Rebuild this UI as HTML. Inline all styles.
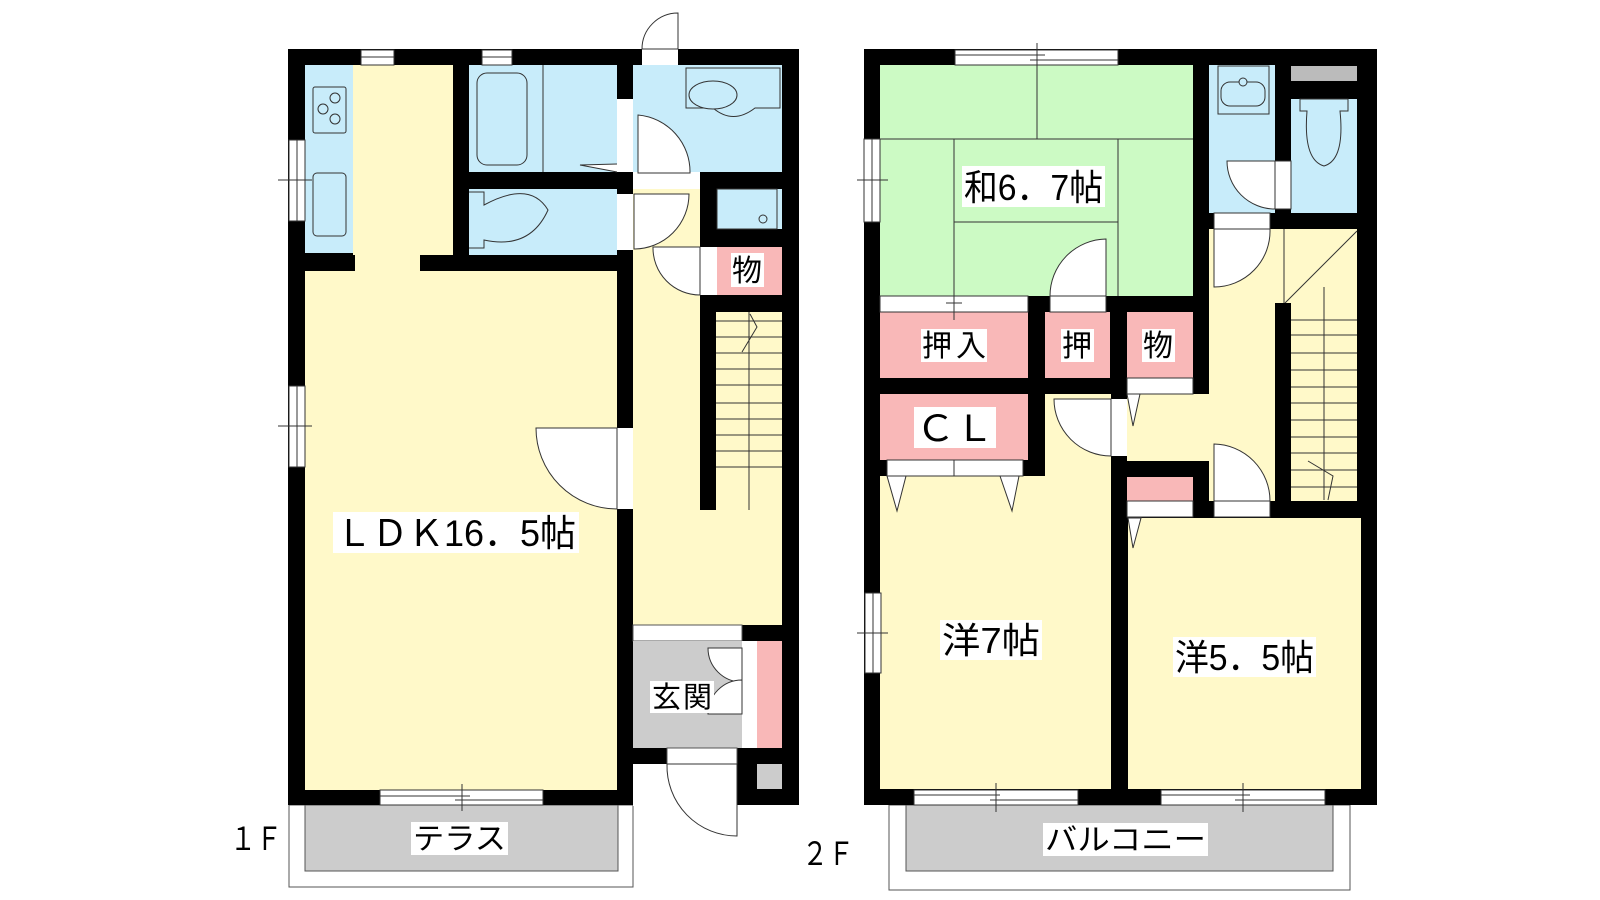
<!DOCTYPE html>
<html><head><meta charset="utf-8"><style>
html,body{margin:0;padding:0;background:#fff}
svg{display:block}
text{font-family:"Liberation Sans","Noto Sans CJK JP",sans-serif;fill:#000}
</style></head><body>
<svg width="1600" height="900" viewBox="0 0 1600 900" xmlns="http://www.w3.org/2000/svg">
<g stroke="none">
<!-- 1F -->
<rect x="289" y="805" width="344" height="82" fill="#fff" stroke="#555" stroke-width="1"/>
<rect x="305" y="805" width="313" height="66" fill="#ccc" stroke="#555" stroke-width="1"/>
<rect x="288" y="49" width="511" height="756" fill="#000"/>
<rect x="305" y="65" width="48" height="188" fill="#c8ecfa"/>
<rect x="353" y="65" width="100" height="190" fill="#fff9c9"/>
<rect x="305" y="271" width="312" height="519" fill="#fff9c9"/>
<rect x="355" y="253" width="65" height="20" fill="#fff9c9"/>
<rect x="469" y="65" width="148" height="107" fill="#c8ecfa"/>
<rect x="469" y="189" width="148" height="66" fill="#c8ecfa"/>
<rect x="633" y="65" width="149" height="107" fill="#c8ecfa"/>
<rect x="717" y="189" width="65" height="40" fill="#c8ecfa"/>
<rect x="633" y="189" width="67" height="123" fill="#fff9c9"/>
<rect x="633" y="312" width="149" height="313" fill="#fff9c9"/>
<rect x="700" y="296" width="16" height="214" fill="#000"/>
<rect x="717" y="247" width="65" height="48" fill="#f9b8b8"/>
<rect x="700" y="247" width="17" height="48" fill="#fff"/>
<rect x="633" y="625" width="109" height="16" fill="#fff" stroke="#555" stroke-width="1"/>
<rect x="633" y="641" width="109" height="107" fill="#ccc"/>
<rect x="742" y="641" width="15" height="107" fill="#fff"/>
<rect x="757" y="641" width="25" height="107" fill="#f9b8b8"/>
<rect x="757" y="764" width="25" height="25" fill="#ccc"/>
<rect x="633" y="764" width="104" height="42" fill="#fff"/>
<rect x="667" y="748" width="70" height="16" fill="#fff" stroke="#555" stroke-width="1"/>
<!-- 1F doors/window openings -->
<rect x="642" y="49" width="36" height="16" fill="#fff"/>
<rect x="617" y="99" width="16" height="73" fill="#fff"/>
<rect x="617" y="194" width="16" height="56" fill="#fff"/>
<rect x="617" y="428" width="16" height="81" fill="#fff"/>
<rect x="633" y="172" width="67" height="17" fill="#fff"/>
</g>
<g fill="#fff" stroke="#333" stroke-width="1">
<!-- windows 1F -->
<rect x="361" y="50" width="33" height="15"/><line x1="361" y1="57" x2="394" y2="57"/>
<rect x="482" y="50" width="30" height="15"/><line x1="482" y1="57" x2="512" y2="57"/>
<rect x="289" y="140" width="16" height="81"/><line x1="297" y1="140" x2="297" y2="221"/><line x1="278" y1="180" x2="312" y2="180"/>
<rect x="289" y="386" width="16" height="81"/><line x1="297" y1="386" x2="297" y2="467"/><line x1="278" y1="426" x2="312" y2="426"/>
<rect x="380" y="790" width="163" height="15"/><line x1="380" y1="796" x2="470" y2="796"/><line x1="455" y1="800" x2="543" y2="800"/><line x1="462" y1="784" x2="462" y2="811"/>
<!-- door arcs 1F -->
<path d="M678 49 L678 13 A36 36 0 0 0 642 49 Z"/>
<path d="M638 115 L638 173 L690 173 A57 57 0 0 0 638 115 Z"/>
<path d="M634 194 L689 194 A55 55 0 0 1 634 249 Z"/>
<path d="M700 247 L653 247 A47 47 0 0 0 700 295 Z"/>
<path d="M617 428 L536 428 A81 81 0 0 0 617 509 Z"/>
<path d="M667 764 L737 764 L737 836 A70 70 0 0 1 667 764 Z"/>
<path d="M742 648 L708 648 A34 34 0 0 0 742 682 Z"/>
<path d="M742 714 L708 714 A34 34 0 0 1 742 680 Z"/>
<!-- fixtures -->
<rect x="313" y="87" width="33" height="46" rx="2" fill="#c8ecfa"/>
<circle cx="335" cy="98" r="5" fill="#c8ecfa"/><circle cx="323" cy="109" r="5" fill="#c8ecfa"/><circle cx="335" cy="119" r="5" fill="#c8ecfa"/>
<rect x="313" y="173" width="33" height="63" rx="4" fill="#c8ecfa"/>
<rect x="477" y="73" width="50" height="92" rx="10" fill="#c8ecfa"/>
<line x1="543" y1="65" x2="543" y2="172"/>
<path d="M617 164 L580 165 L617 172" fill="#fff"/>
<path d="M469 192 L484 192 L484 205 Q530 180 548 210 Q530 250 484 240 L484 248 L469 248" fill="#c8ecfa"/>
<path d="M686 68 L780 68 L780 108 L755 108 Q733 125 713 108 L686 108 Z" fill="#c8ecfa"/>
<ellipse cx="713" cy="95" rx="24" ry="14" fill="#c8ecfa"/>
<rect x="717" y="189" width="60" height="40" fill="#c8ecfa"/>
<circle cx="763" cy="219" r="4" fill="#c8ecfa"/>
</g>
<g stroke="#333" stroke-width="1" fill="none">
<line x1="716" y1="321" x2="782" y2="321"/><line x1="716" y1="337" x2="782" y2="337"/><line x1="716" y1="353" x2="782" y2="353"/><line x1="716" y1="369" x2="782" y2="369"/><line x1="716" y1="385" x2="782" y2="385"/><line x1="716" y1="403" x2="782" y2="403"/><line x1="716" y1="419" x2="782" y2="419"/><line x1="716" y1="435" x2="782" y2="435"/><line x1="716" y1="451" x2="782" y2="451"/><line x1="716" y1="467" x2="782" y2="467"/>
<line x1="749" y1="312" x2="749" y2="510"/>
<polyline points="750,314 757,327 742,352"/>
</g>

<!-- 2F -->
<g stroke="none">
<rect x="889" y="805" width="461" height="85" fill="#fff" stroke="#555" stroke-width="1"/>
<rect x="906" y="805" width="427" height="66" fill="#ccc" stroke="#555" stroke-width="1"/>
<rect x="864" y="49" width="513" height="756" fill="#000"/>
<rect x="880" y="65" width="313" height="231" fill="#ccfac4"/>
<rect x="1209" y="65" width="66" height="148" fill="#c8ecfa"/>
<rect x="1291" y="66" width="66" height="15" fill="#bbb"/>
<rect x="1291" y="99" width="66" height="114" fill="#c8ecfa"/>
<rect x="1209" y="229" width="148" height="74" fill="#fff9c9"/>
<rect x="1209" y="229" width="66" height="272" fill="#fff9c9"/>
<rect x="1127" y="394" width="82" height="67" fill="#fff9c9"/>
<rect x="1291" y="303" width="66" height="198" fill="#fff9c9"/>
<rect x="880" y="312" width="148" height="66" fill="#f9b8b8"/>
<rect x="1045" y="312" width="65" height="66" fill="#f9b8b8"/>
<rect x="1127" y="312" width="66" height="66" fill="#f9b8b8"/>
<rect x="880" y="394" width="148" height="66" fill="#f9b8b8"/>
<rect x="880" y="476" width="231" height="313" fill="#fff9c9"/>
<rect x="1045" y="394" width="66" height="82" fill="#fff9c9"/>
<rect x="1128" y="518" width="233" height="271" fill="#fff9c9"/>
<rect x="1127" y="477" width="66" height="24" fill="#f9b8b8"/>
<rect x="1111" y="399" width="16" height="57" fill="#fff"/>
</g>
<g fill="#fff" stroke="#333" stroke-width="1">
<rect x="880" y="296" width="148" height="16"/>
<rect x="1050" y="296" width="56" height="16"/>
<rect x="1127" y="378" width="66" height="16"/>
<rect x="887" y="460" width="67" height="16"/><rect x="954" y="460" width="69" height="16"/>
<rect x="1127" y="501" width="66" height="16"/>
<rect x="1214" y="501" width="56" height="16"/>
<rect x="1214" y="213" width="56" height="16"/>
<rect x="1275" y="161" width="16" height="48"/>
<!-- windows 2F -->
<rect x="955" y="50" width="163" height="15"/><line x1="955" y1="55" x2="1045" y2="55"/><line x1="1030" y1="60" x2="1118" y2="60"/><line x1="1037" y1="43" x2="1037" y2="65"/>
<rect x="864" y="139" width="16" height="83"/><line x1="872" y1="139" x2="872" y2="222"/><line x1="857" y1="180" x2="888" y2="180"/>
<rect x="865" y="593" width="16" height="80"/><line x1="873" y1="593" x2="873" y2="673"/><line x1="857" y1="633" x2="888" y2="633"/>
<rect x="914" y="790" width="164" height="15"/><line x1="914" y1="795" x2="1000" y2="795"/><line x1="990" y1="800" x2="1078" y2="800"/><line x1="996" y1="783" x2="996" y2="812"/>
<rect x="1161" y="790" width="164" height="15"/><line x1="1161" y1="795" x2="1250" y2="795"/><line x1="1235" y1="800" x2="1325" y2="800"/><line x1="1243" y1="783" x2="1243" y2="812"/>
<!-- door arcs 2F -->
<path d="M1106 296 L1106 239 A57 57 0 0 0 1050 296 Z"/>
<path d="M1111 399 L1054 399 A57 57 0 0 0 1111 456 Z"/>
<path d="M1214 229 L1270 229 A56 56 0 0 1 1214 287 Z"/>
<path d="M1270 501 L1214 501 L1214 444 A57 57 0 0 1 1270 501 Z"/>
<path d="M1275 161 L1227 161 A48 48 0 0 0 1275 209 Z"/>
<polygon points="887,476 906,476 897,511"/><polygon points="1000,476 1019,476 1012,511"/>
<polygon points="1127,394 1140,394 1133,426"/>
<polygon points="1128,518 1141,518 1133,548"/>
<!-- fixtures -->
<rect x="1218" y="66" width="51" height="48" fill="#c8ecfa"/>
<rect x="1221" y="82" width="44" height="24" rx="9" fill="#c8ecfa"/>
<circle cx="1243" cy="82" r="4" fill="#c8ecfa"/>
<path d="M1300 99 L1348 99 L1348 111 L1340 111 Q1345 160 1324 166 Q1303 160 1307 111 L1300 111 Z" fill="#c8ecfa"/>
</g>
<g stroke="#333" stroke-width="1" fill="none">
<line x1="880" y1="139" x2="1193" y2="139"/>
<line x1="1037" y1="65" x2="1037" y2="139"/>
<line x1="954" y1="139" x2="954" y2="320"/>
<line x1="1118" y1="139" x2="1118" y2="296"/>
<line x1="954" y1="222" x2="1118" y2="222"/>
<line x1="946" y1="303" x2="962" y2="303"/>
<line x1="1284" y1="229" x2="1284" y2="303"/>
<line x1="1285" y1="303" x2="1357" y2="231"/>
<line x1="1291" y1="320" x2="1357" y2="320"/><line x1="1291" y1="335" x2="1357" y2="335"/><line x1="1291" y1="353" x2="1357" y2="353"/><line x1="1291" y1="370" x2="1357" y2="370"/><line x1="1291" y1="387" x2="1357" y2="387"/><line x1="1291" y1="403" x2="1357" y2="403"/><line x1="1291" y1="420" x2="1357" y2="420"/><line x1="1291" y1="437" x2="1357" y2="437"/><line x1="1291" y1="453" x2="1357" y2="453"/><line x1="1291" y1="470" x2="1357" y2="470"/><line x1="1291" y1="487" x2="1357" y2="487"/>
<line x1="1324" y1="287" x2="1324" y2="500"/>
<polyline points="1308,461 1333,476 1328,500"/>
</g>

<!-- labels -->
<g fill="#fff">
<rect x="333" y="512" width="246" height="41"/>
<rect x="411" y="822" width="97" height="33"/>
<rect x="650" y="681" width="64" height="32"/>
<rect x="731" y="253" width="33" height="34"/>
<rect x="962" y="166" width="143" height="41"/>
<rect x="921" y="329" width="66" height="33"/>
<rect x="1061" y="329" width="33" height="33"/>
<rect x="1142" y="329" width="33" height="33"/>
<rect x="914" y="407" width="82" height="41"/>
<rect x="940" y="620" width="102" height="40"/>
<rect x="1173" y="637" width="143" height="40"/>
<rect x="1043" y="823" width="165" height="33"/>
</g>
<text x="336" y="546" font-size="37" textLength="240" lengthAdjust="spacingAndGlyphs">ＬＤＫ16．5帖</text>
<text x="413" y="849" font-size="30" textLength="93" lengthAdjust="spacingAndGlyphs">テラス</text>
<text x="652" y="707" font-size="29" textLength="60">玄関</text>
<text x="732" y="281" font-size="30">物</text>
<text x="964" y="200" font-size="36" textLength="139" lengthAdjust="spacingAndGlyphs">和6．7帖</text>
<text x="922" y="356" font-size="30" textLength="64">押入</text>
<text x="1062" y="356" font-size="30">押</text>
<text x="1143" y="356" font-size="30">物</text>
<text x="916" y="441" font-size="36" textLength="78" lengthAdjust="spacingAndGlyphs">ＣＬ</text>
<text x="942" y="653" font-size="36" textLength="98" lengthAdjust="spacingAndGlyphs">洋7帖</text>
<text x="1175" y="670" font-size="36" textLength="139" lengthAdjust="spacingAndGlyphs">洋5．5帖</text>
<text x="1045" y="850" font-size="30" textLength="161" lengthAdjust="spacingAndGlyphs">バルコニー</text>
<text x="230" y="850" font-size="32" textLength="52" lengthAdjust="spacingAndGlyphs">１Ｆ</text>
<text x="802" y="865" font-size="32" textLength="52" lengthAdjust="spacingAndGlyphs">２Ｆ</text>
</svg>
</body></html>
